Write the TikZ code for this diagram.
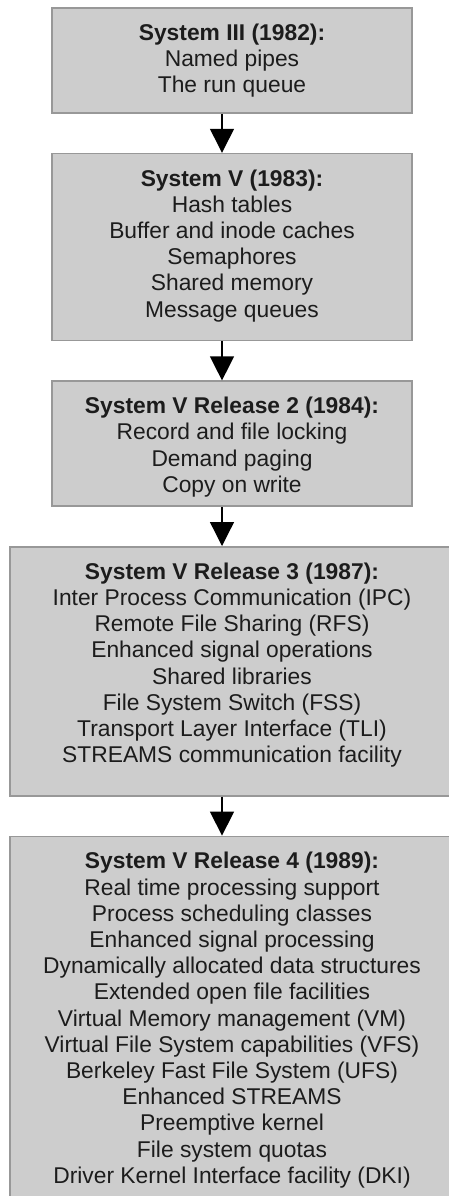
\documentclass[tikz,border=0pt]{standalone}
\usepackage{fontspec}
\setmainfont{Liberation Sans}
\usetikzlibrary{positioning,arrows.meta}
\definecolor{boxgray}{RGB}{205,205,205}
\definecolor{edgegray}{RGB}{152,152,152}
\definecolor{inkgray}{RGB}{28,28,28}

\begin{document}
\begin{tikzpicture}[->,>={Triangle[width=24pt,length=24pt]},
  release/.style={rectangle,draw=edgegray,fill=boxgray,line width=1.6pt},
  relnote/.style={align=center,inner sep=0pt,text=inkgray,font=\fontsize{22.8}{26.2}\selectfont},
  node distance=39pt]
\useasboundingbox (0,0) rectangle (449pt,-1196pt);

\node[release,minimum width=360pt,minimum height=105pt](r1) at (232pt,-60.5pt){};
\node[release,minimum width=360pt,minimum height=187pt,below=of r1](r2){};
\node[release,minimum width=360pt,minimum height=125pt,below=of r2](r3){};
\node[release,minimum width=444pt,minimum height=249pt,below=of r3](r4){};
\node[release,minimum width=444pt,minimum height=390pt,below=of r4](r5){};

\node[relnote,below=16.5pt of r1.north](t1){\textbf{System III (1982):}\\
  Named pipes\\The run queue};
\node[relnote,below=16.5pt of r2.north](t2){\textbf{System V (1983):}\\
  Hash tables\\Buffer and inode caches\\Semaphores\\Shared memory\\Message queues};
\node[relnote,below=16.5pt of r3.north](t3){\textbf{System V Release 2 (1984):}\\
  Record and file locking\\Demand paging\\Copy on write};
\node[relnote,below=16.5pt of r4.north](t4){\textbf{System V Release 3 (1987):}\\
  Inter Process Communication (IPC)\\Remote File Sharing (RFS)\\
  Enhanced signal operations\\Shared libraries\\File System Switch (FSS)\\
  Transport Layer Interface (TLI)\\STREAMS communication facility};
\node[relnote,below=16.5pt of r5.north](t5){\textbf{System V Release 4 (1989):}\\
  Real time processing support\\Process scheduling classes\\
  Enhanced signal processing\\Dynamically allocated data structures\\
  Extended open file facilities\\Virtual Memory management (VM)\\
  Virtual File System capabilities (VFS)\\Berkeley Fast File System (UFS)\\
  Enhanced STREAMS\\Preemptive kernel\\File system quotas\\
  Driver Kernel Interface facility (DKI)};

\draw[line width=1.3pt] ([xshift=-10pt]r1.south) -- ([xshift=-10pt]r2.north);
\draw[line width=1.3pt] ([xshift=-10pt]r2.south) -- ([xshift=-10pt]r3.north);
\draw[line width=1.3pt] ([xshift=-10pt]r3.south) -- ([xshift=-10pt]r4.north);
\draw[line width=1.3pt] ([xshift=-10pt]r4.south) -- ([xshift=-10pt]r5.north);
\end{tikzpicture}
\end{document}
